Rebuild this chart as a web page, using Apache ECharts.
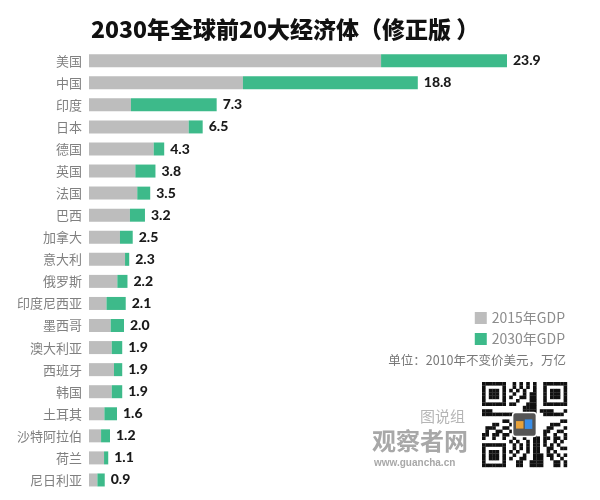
<!DOCTYPE html>
<html><head><meta charset="utf-8">
<script src="https://cdn.jsdelivr.net/npm/echarts@6/dist/echarts.min.js"></script>
<style>html,body{margin:0;padding:0;background:#fff}#c{width:600px;height:500px}</style>
</head><body><div id="c"></div>
<script>
const countries = ['美国','中国','印度','日本','德国','英国','法国','巴西','加拿大','意大利','俄罗斯','印度尼西亚','墨西哥','澳大利亚','西班牙','韩国','土耳其','沙特阿拉伯','荷兰','尼日利亚'];
const gdp2015 = [16.7,8.8,2.4,5.7,3.7,2.65,2.76,2.34,1.77,2.06,1.62,1.0,1.24,1.3,1.43,1.3,0.88,0.69,0.86,0.48];
const gdp2030 = [23.9,18.8,7.3,6.5,4.3,3.8,3.5,3.2,2.5,2.3,2.2,2.1,2.0,1.9,1.9,1.9,1.6,1.2,1.1,0.9];
const labels2030 = ['23.9','18.8','7.3','6.5','4.3','3.8','3.5','3.2','2.5','2.3','2.2','2.1','2.0','1.9','1.9','1.9','1.6','1.2','1.1','0.9'];
const seriesNames = ['2015年GDP','2030年GDP'];
const titleText = '2030年全球前20大经济体（修正版 ）';
const unitText = '单位：2010年不变价美元，万亿';

const GRAY = '#bdbdbd', GREEN = '#3dba8a';
const increment = gdp2030.map((v,i)=> +(v - gdp2015[i]).toFixed(2));

// QR-like decorative code
const qr = [];
const N = 25, S = 3.4, QX = 482, QY = 382;
function finder(r,c){ return (r<7&&c<7)||(r<7&&c>=N-7)||(r>=N-7&&c<7); }
for (let r=0;r<N;r++) for (let c=0;c<N;c++){
  let on;
  if (finder(r,c)) {
    let rr = r>=N-7 ? r-(N-7) : r, cc = c>=N-7 ? c-(N-7) : c;
    on = (rr===0||rr===6||cc===0||cc===6) || (rr>=2&&rr<=4&&cc>=2&&cc<=4);
  } else if ((r===7&&(c<8||c>=N-8))||(c===7&&(r<8||r>=N-8))||(r===N-8&&c<8)||(c===N-8&&r<8)) {
    on = false;
  } else {
    on = ((r*37 + c*61 + r*c*13 + (r^c)*7) % 9) < 4;
  }
  if (on) qr.push({type:'rect', shape:{x:QX+c*S, y:QY+r*S, width:S+0.2, height:S+0.2}, style:{fill:'#111'}});
}
qr.push({type:'rect', shape:{x:QX+9*S, y:QY+9*S, width:7*S, height:7*S, r:3}, style:{fill:'#555', stroke:'#fff', lineWidth:1.5}});
qr.push({type:'rect', shape:{x:QX+10*S, y:QY+11.5*S, width:2.2*S, height:2.2*S}, style:{fill:'#e8a23a'}});
qr.push({type:'rect', shape:{x:QX+12.6*S, y:QY+11*S, width:2.2*S, height:2.8*S}, style:{fill:'#3a8ee8'}});

const chart = echarts.init(document.getElementById('c'));
chart.setOption({
  backgroundColor:'#fff',
  animation:false,
  title:{text:titleText, left:86, top:13, textStyle:{fontSize:23, fontWeight:900, color:'#111', fontFamily:'Noto Sans CJK SC'}},
  legend:{orient:'vertical', right:30, top:306, itemWidth:12, itemHeight:12, itemGap:7, icon:'rect',
    textStyle:{fontSize:14, color:'#8c8c8c', fontFamily:'Noto Sans CJK SC'}, data:seriesNames},
  grid:{left:89, top:49.7, height:441.3, width:489.7},
  xAxis:{type:'value', min:0, max:28, show:false},
  yAxis:{type:'category', inverse:true, data:countries,
    axisLine:{show:false}, axisTick:{show:false},
    axisLabel:{fontSize:13, color:'#808080', margin:7, fontFamily:'Noto Sans CJK SC'}},
  series:[
    {name:seriesNames[0], type:'bar', stack:'g', data:gdp2015, barWidth:13, itemStyle:{color:GRAY}},
    {name:seriesNames[1], type:'bar', stack:'g', data:increment, barWidth:13, itemStyle:{color:GREEN},
     label:{show:true, position:'right', distance:6, formatter:p=>labels2030[p.dataIndex],
       fontSize:14, fontWeight:900, color:'#1a1a1a', fontFamily:'Lato'}}
  ],
  graphic:[
    {type:'text', right:34, top:354, style:{text:unitText, fontSize:12.5, fill:'#777', fontFamily:'Noto Sans CJK SC'}},
    {type:'text', left:420, top:409, style:{text:'图说组', fontSize:15, fill:'#b5b5b5', fontFamily:'Noto Sans CJK SC'}},
    {type:'text', left:372, top:429, style:{text:'观察者网', fontSize:24, fontWeight:'bold', fill:'#a8a8a8', fontFamily:'Noto Sans CJK SC'}},
    {type:'text', left:374, top:458, style:{text:'www.guancha.cn', fontSize:10, fontWeight:'bold', fill:'#a8a8a8', fontFamily:'Liberation Sans Narrow, Liberation Sans'}},
    {type:'group', children:qr}
  ]
});
</script></body></html>
